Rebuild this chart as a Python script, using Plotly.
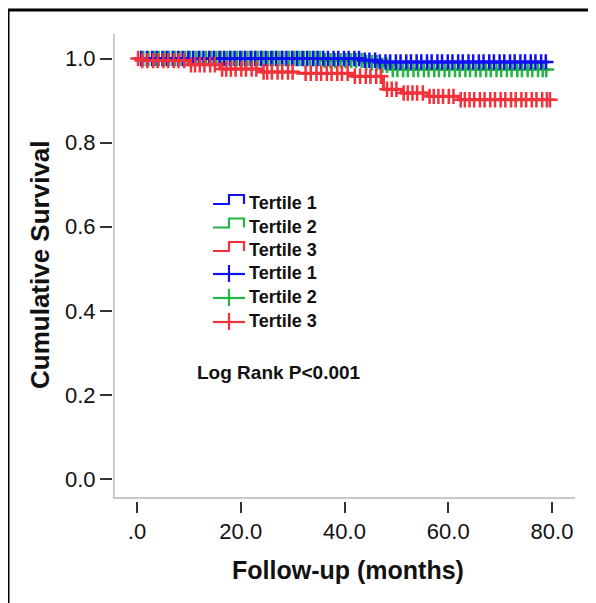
import numpy as np
import plotly.graph_objects as go

# ---- data ----
groups = ["Tertile 1", "Tertile 2", "Tertile 3"]

t1_time = [0, 43.5, 46.0, 79.0]
t1_surv = [1.0, 0.996, 0.992, 0.992]
t2_time = [0, 36.0, 44.0, 47.0, 49.0, 79.0]
t2_surv = [1.0, 0.995, 0.990, 0.984, 0.974, 0.974]
t3_time = [0, 0.4, 10.0, 16.0, 24.0, 31.0, 41.5, 47.5, 51.0, 56.0, 62.0, 79.6]
t3_surv = [1.0, 0.995, 0.985, 0.975, 0.968, 0.965, 0.958, 0.927, 0.918, 0.910, 0.902, 0.902]

t1_cens = [0.8, 1.9, 2.9, 3.8, 4.9, 5.8, 6.9, 7.9, 8.8, 9.9, 10.8, 11.9, 12.8, 13.9, 14.8,
           15.9, 16.8, 17.9, 18.8, 19.9, 20.8, 21.9, 22.8, 23.9, 24.8, 25.9, 26.8, 27.9,
           28.8, 29.9, 30.8, 31.9, 32.8, 33.9, 34.8, 35.9, 36.8, 37.9, 38.8, 39.9, 40.8,
           41.9, 42.8, 43.9, 44.8, 45.9, 46.8, 47.9, 48.8, 49.9, 50.8, 51.9, 52.8, 53.9,
           54.8, 55.9, 56.8, 57.9, 58.8, 59.9, 60.8, 61.9, 62.8, 63.9, 64.8, 65.9, 66.8,
           67.9, 68.8, 69.9, 70.8, 71.9, 72.8, 73.9, 74.8, 75.9, 76.8, 77.9, 78.8]
t2_cens = [1.2, 2.2, 3.3, 4.2, 5.3, 6.2, 7.3, 8.2, 9.3, 10.2, 11.3, 12.2, 13.3, 14.2, 15.3,
           16.2, 17.3, 18.2, 19.3, 20.2, 21.3, 22.2, 23.3, 24.2, 25.3, 26.2, 27.3, 28.2,
           29.3, 30.2, 31.3, 32.2, 33.3, 34.2, 35.3, 36.2, 37.3, 38.2, 39.3, 40.2, 41.3,
           42.2, 43.3, 44.2, 45.3, 46.2, 47.3, 48.2, 49.3, 50.2, 51.3, 52.2, 53.3, 54.2,
           55.3, 56.2, 57.3, 58.2, 59.3, 60.2, 61.3, 62.2, 63.3, 64.2, 65.3, 66.2, 67.3,
           68.2, 69.3, 70.2, 71.3, 72.2, 73.3, 74.2, 75.3, 76.2, 77.3, 78.2, 78.9]
t3_cens = [0.2, 1.0, 2.0, 3.1, 4.0, 5.1, 6.0, 7.1, 8.0, 9.1, 10.4, 11.2, 12.1, 13.0, 14.1,
           15.0, 16.4, 17.2, 18.1, 19.0, 20.1, 21.0, 22.1, 23.0, 24.4, 25.1, 26.0, 27.1,
           28.0, 29.1, 30.0, 32.5, 33.5, 34.6, 35.5, 36.6, 37.5, 38.6, 39.5, 40.6, 42.0,
           43.0, 44.1, 45.0, 46.1, 47.0, 48.2, 49.1, 50.0, 51.4, 52.2, 53.1, 54.0, 55.1,
           56.4, 57.2, 58.1, 59.0, 60.1, 61.0, 62.4, 63.2, 64.1, 65.0, 66.1, 67.0, 68.1,
           69.0, 70.1, 71.0, 72.1, 73.0, 74.1, 75.0, 76.1, 77.0, 78.1, 79.0, 79.6]

x_ticks = [0, 20, 40, 60, 80]
x_tick_labels = [".0", "20.0", "40.0", "60.0", "80.0"]
y_ticks = [0.0, 0.2, 0.4, 0.6, 0.8, 1.0]
y_tick_labels = ["0.0", "0.2", "0.4", "0.6", "0.8", "1.0"]

colors = {"Tertile 1": "#1010F5", "Tertile 2": "#22B544", "Tertile 3": "#F2323A"}

FONT = "Liberation Sans, Arial, sans-serif"

# ---- layout geometry (figure pixels) ----
W, H = 596, 603
L, R, T, B = 105, 29, 26, 110
PW, PH = W - L - R, H - T - B


def xp(px):
    return (px - L) / PW


def yp(py):
    return (H - B - py) / PH


def surv_at(times, survs, pts):
    times = np.asarray(times)
    survs = np.asarray(survs)
    idx = np.searchsorted(times, np.asarray(pts), side="right") - 1
    return survs[np.clip(idx, 0, len(survs) - 1)]


curves = {
    "Tertile 1": (t1_time, t1_surv, t1_cens),
    "Tertile 2": (t2_time, t2_surv, t2_cens),
    "Tertile 3": (t3_time, t3_surv, t3_cens),
}

fig = go.Figure()
draw_order = ["Tertile 2", "Tertile 1", "Tertile 3"]
for name in draw_order:
    tt, ss, cc = curves[name]
    fig.add_trace(go.Scatter(
        x=tt, y=ss, mode="lines", name=name, line_shape="hv",
        line=dict(color=colors[name], width=3), showlegend=False,
    ))
    fig.add_trace(go.Scatter(
        x=cc, y=surv_at(tt, ss, cc), mode="markers", name=name + " censored",
        marker=dict(symbol="cross-thin", size=11, color=colors[name],
                    line=dict(color=colors[name], width=2.5)),
        showlegend=False,
    ))

# plot area: x=0 at 129px, 80 at 544px; y=1.0 at 50.5px, 0.0 at 471px
y_lo, y_hi = -0.0523, 1.0583
x_lo, x_hi = -4.63, 84.43

shapes = [
    # light grey axis lines
    dict(type="line", xref="paper", yref="y", x0=0, x1=1, y0=-0.0452, y1=-0.0452,
         line=dict(color="#C8C8C8", width=2)),
    dict(type="line", xref="paper", yref="paper", x0=0.002, x1=0.002, y0=0.0064, y1=1,
         line=dict(color="#C8C8C8", width=2)),
    # outer black border (top and left)
    dict(type="line", xref="paper", yref="paper", x0=xp(0), x1=xp(W + 10), y0=yp(2), y1=yp(2),
         line=dict(color="black", width=3)),
    dict(type="line", xref="paper", yref="paper", x0=xp(0), x1=xp(0), y0=yp(H + 10), y1=yp(2),
         line=dict(color="black", width=3)),
]

annotations = [
    dict(text="Follow-up (months)", xref="paper", yref="paper", x=xp(340), y=yp(562),
         xanchor="center", yanchor="middle", showarrow=False,
         font=dict(family=FONT, size=25, color="#111", weight="bold")),
    dict(text="Cumulative Survival", xref="paper", yref="paper", x=xp(32), y=yp(257),
         xanchor="center", yanchor="middle", showarrow=False, textangle=-90,
         font=dict(family=FONT, size=26, color="#111", weight="bold")),
    dict(text="Log Rank P<0.001", xref="paper", yref="paper", x=xp(187), y=yp(364),
         xanchor="left", yanchor="middle", showarrow=False,
         font=dict(family=FONT, size=19, color="#111", weight="bold")),
]

# ---- custom legend: step glyphs for curves, cross glyphs for censored marks ----
legend_rows = [195, 218.5, 242, 265, 289, 313]
gx0, gxm, gx1, tx = 205, 221, 236, 239
for i, name in enumerate(groups + groups):
    c = legend_rows[i]
    col = colors[name]
    if i < 3:
        path = (f"M {xp(gx0)},{yp(c + 1)} L {xp(gxm)},{yp(c + 1)} L {xp(gxm)},{yp(c - 8)} "
                f"L {xp(gx1)},{yp(c - 8)} L {xp(gx1)},{yp(c + 1)}")
        shapes.append(dict(type="path", xref="paper", yref="paper", path=path,
                           line=dict(color=col, width=2.2)))
    else:
        shapes.append(dict(type="line", xref="paper", yref="paper", x0=xp(gx0), x1=xp(gx1 + 1),
                           y0=yp(c + 1), y1=yp(c + 1), line=dict(color=col, width=2.2)))
        shapes.append(dict(type="line", xref="paper", yref="paper", x0=xp(gxm), x1=xp(gxm),
                           y0=yp(c - 8), y1=yp(c + 9), line=dict(color=col, width=2.2)))
    annotations.append(dict(text=name, xref="paper", yref="paper", x=xp(tx), y=yp(c),
                            xanchor="left", yanchor="middle", showarrow=False,
                            font=dict(family=FONT, size=18, color="#111", weight="bold")))

fig.update_layout(
    width=W, height=H,
    margin=dict(l=L, r=R, t=T, b=B, pad=0),
    paper_bgcolor="white", plot_bgcolor="white",
    font=dict(family=FONT, size=22, color="#111"),
    showlegend=False,
    xaxis=dict(
        range=[x_lo, x_hi], tickmode="array", tickvals=x_ticks, ticktext=x_tick_labels,
        ticks="outside", ticklen=11, tickwidth=1.5, tickcolor="#333",
        showgrid=False, zeroline=False, showline=False,
        tickfont=dict(family=FONT, size=22, color="#111"),
        ticklabelstandoff=0,
    ),
    yaxis=dict(
        range=[y_lo, y_hi], tickmode="array", tickvals=y_ticks, ticktext=y_tick_labels,
        ticks="outside", ticklen=12, tickwidth=1.5, tickcolor="#333",
        showgrid=False, zeroline=False, showline=False,
        tickfont=dict(family=FONT, size=22, color="#111"),
        ticklabelstandoff=0,
    ),
    shapes=shapes,
    annotations=annotations,
)

fig.write_html("out.html")
